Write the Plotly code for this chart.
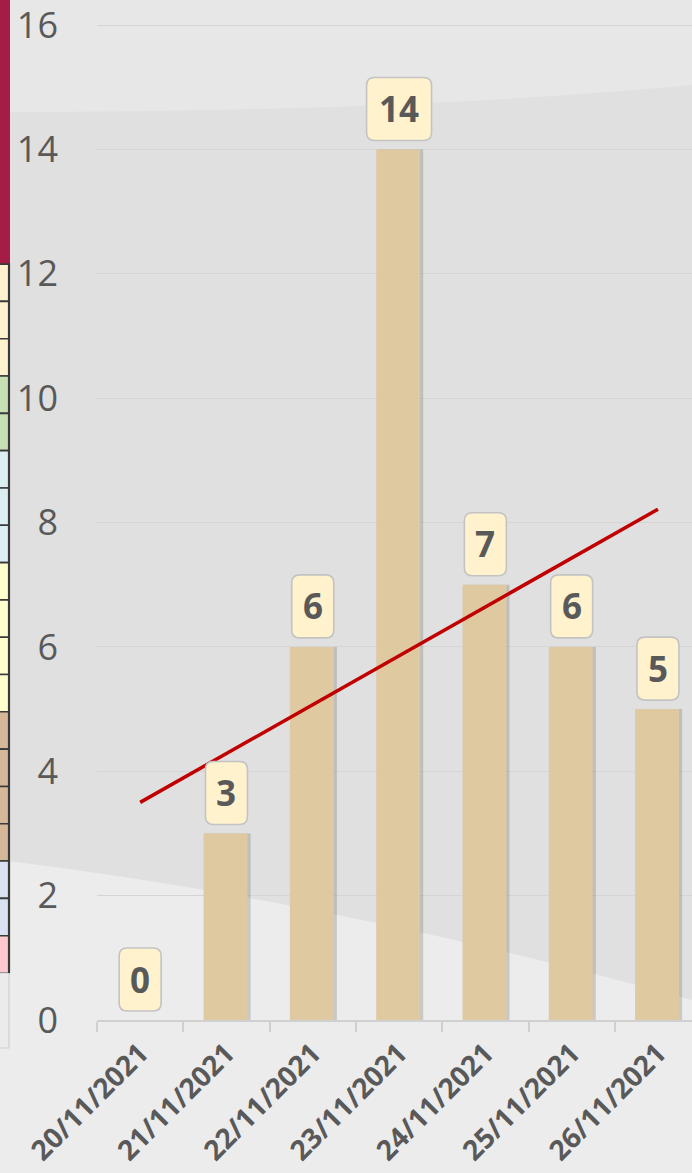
import numpy as np
import plotly.graph_objects as go

# ---------------- data ----------------
dates = ["20/11/2021", "21/11/2021", "22/11/2021", "23/11/2021",
         "24/11/2021", "25/11/2021", "26/11/2021"]
counts = [0, 3, 6, 14, 7, 6, 5]
y_ticks = [0, 2, 4, 6, 8, 10, 12, 14, 16]

# decorative strip at the left edge (cropped table in the original screenshot)
strip_colors = (["#FFF2CC"] * 3 + ["#C6E0B4"] * 2 + ["#DAEEF3"] * 3 +
                ["#FFFFCC"] * 4 + ["#D6B797"] * 4 + ["#D9E1F2"] * 2 + ["#FFC7CE"])

# ---------------- geometry ----------------
W, H = 692, 1173
Y_TOP = 16.05
ML, MR, MB = 97, 0, 153
UNIT = 995 / 16.0
MT = H - MB - UNIT * Y_TOP
PW, PH = W - ML - MR, H - MT - MB


def px(xp):
    return (xp - ML) / PW


def py(yp):
    return (H - MB - yp) / PH


xs = np.arange(len(dates))
BAR_W = 0.51

fig = go.Figure()

# soft shadow behind bars
fig.add_trace(go.Bar(
    x=xs, y=counts, width=BAR_W + 0.02, offset=-BAR_W / 2 + 0.005,
    marker=dict(color="rgba(0,0,0,0.15)", line=dict(width=0)),
    hoverinfo="skip", showlegend=False))
fig.add_trace(go.Bar(
    x=xs, y=counts, width=BAR_W, offset=-BAR_W / 2 - 0.01,
    marker=dict(color="#DFC9A1", line=dict(width=0)),
    showlegend=False))

# linear trend line computed from the data
slope, intercept = np.polyfit(xs, counts, 1)
trend = slope * xs + intercept
fig.add_trace(go.Scatter(
    x=xs, y=trend, mode="lines",
    line=dict(color="#C00000", width=3.5),
    hoverinfo="skip", showlegend=False))


def rounded_rect(w, h, r, b):
    x0, x1, y0, y1 = -w / 2, w / 2, b, b + h
    return (f"M {x0 + r},{y0} L {x1 - r},{y0} Q {x1},{y0} {x1},{y0 + r} "
            f"L {x1},{y1 - r} Q {x1},{y1} {x1 - r},{y1} L {x0 + r},{y1} "
            f"Q {x0},{y1} {x0},{y1 - r} L {x0},{y0 + r} Q {x0},{y0} {x0 + r},{y0} Z")


shapes = []
annotations = []

# background: lighter top band and lighter bottom swoosh
shapes.append(dict(type="path", xref="paper", yref="paper", layer="below",
                   path=(f"M {px(0)},{py(0)} L {px(692)},{py(0)} L {px(692)},{py(85)} "
                         f"Q {px(400)},{py(112)} {px(0)},{py(112)} Z"),
                   fillcolor="#E7E7E7", line=dict(width=0)))
shapes.append(dict(type="path", xref="paper", yref="paper", layer="below",
                   path=(f"M {px(0)},{py(860)} Q {px(330)},{py(900)} {px(692)},{py(1000)} "
                         f"L {px(692)},{py(1173)} L {px(0)},{py(1173)} Z"),
                   fillcolor="#ECECEC", line=dict(width=0)))

# left decorative strip
shapes.append(dict(type="rect", xref="paper", yref="paper", layer="above",
                   x0=px(-2), x1=px(10), y0=py(264), y1=py(-2),
                   fillcolor="#A51D46", line=dict(width=0)))
top = 264.0
cell_h = (973 - 264) / len(strip_colors)
for i, c in enumerate(strip_colors):
    y0p = top + i * cell_h
    y1p = y0p + cell_h
    shapes.append(dict(type="rect", xref="paper", yref="paper", layer="above",
                       x0=px(-2), x1=px(9), y0=py(y1p), y1=py(y0p),
                       fillcolor=c, line=dict(color="#3A3A3A", width=1.6)))
shapes.append(dict(type="rect", xref="paper", yref="paper", layer="above",
                   x0=px(-2), x1=px(9), y0=py(1048), y1=py(973),
                   fillcolor="#EBEBEB", line=dict(color="#D0D0D0", width=1.2)))
shapes.append(dict(type="line", xref="paper", yref="paper", layer="above",
                   x0=px(9), x1=px(9), y0=py(973), y1=py(264),
                   line=dict(color="#3A3A3A", width=2.2)))

# data labels: rounded boxes + text
for xi, v in zip(xs, counts):
    w = 42 if len(str(v)) == 1 else 65
    shapes.append(dict(type="path", xref="x", yref="y",
                       xsizemode="pixel", ysizemode="pixel",
                       xanchor=float(xi), yanchor=float(v), layer="above",
                       path=rounded_rect(w, 63, 8, 9),
                       fillcolor="#FFF2CC", line=dict(color="#C3C3C3", width=1.6)))
    annotations.append(dict(x=float(xi), y=v, xref="x", yref="y",
                            text=f"<b>{v}</b>", showarrow=False,
                            yanchor="middle", xanchor="center", yshift=41,
                            font=dict(family="Open Sans", size=35, color="#595959")))

fig.update_layout(
    width=W, height=H,
    margin=dict(l=ML, r=MR, t=MT, b=MB, autoexpand=False),
    paper_bgcolor="#E0E0E0",
    plot_bgcolor="rgba(0,0,0,0)",
    barmode="overlay",
    shapes=shapes,
    annotations=annotations,
    xaxis=dict(
        range=[-0.5, -0.5 + PW / 86.3],
        tickvals=list(xs), ticktext=dates, tickangle=-45,
        tickfont=dict(family="Open Sans", size=28, color="#595959", weight="bold"),
        ticks="", showgrid=False, zeroline=False, ticklabelstandoff=4,
        ticklabeloverflow="allow",
        showline=True, linecolor="#D0D0D0", linewidth=1.5,
        minor=dict(tick0=-0.5, dtick=1, ticks="outside", ticklen=10,
                   tickcolor="#CFCFCF", tickwidth=1.5, showgrid=False),
        fixedrange=True,
    ),
    yaxis=dict(
        range=[0, Y_TOP], tickvals=y_ticks,
        tickfont=dict(family="Open Sans", size=36, color="#595959"),
        ticks="", ticklabelstandoff=38, ticklabeloverflow="allow",
        showgrid=True, gridcolor="#D5D5D5", gridwidth=1.2,
        zeroline=False, showline=False, fixedrange=True,
    ),
    showlegend=False,
)

fig.write_html("out.html",
               config={"displayModeBar": False},
               post_script="document.body.style.margin='0';"
                           "document.body.style.overflow='hidden';")
